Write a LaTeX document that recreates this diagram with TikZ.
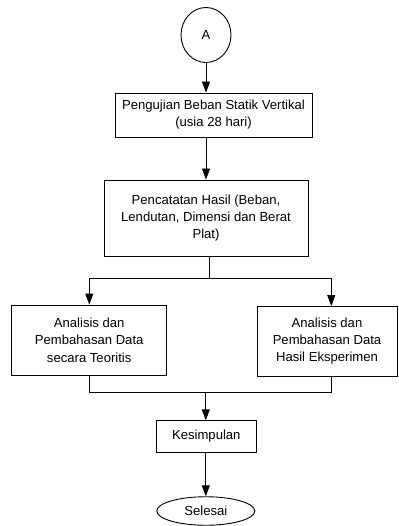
\documentclass[tikz,border=0pt]{standalone}
\usepackage{fontspec}
\setmainfont{Liberation Sans}
\usetikzlibrary{arrows.meta,shapes.geometric}
\begin{document}
\begin{tikzpicture}[x=1pt,y=-1pt,
  every node/.style={font=\fontsize{13.1}{17.2}\selectfont, inner sep=0pt, align=center},
  box/.style={draw, line width=0.9pt, rectangle},
  conn/.style={draw, line width=0.9pt},
  arr/.style={conn, -{Triangle[width=8pt,length=11pt]}}]
\useasboundingbox (0,0) rectangle (398,526);
\node[draw, line width=0.9pt, ellipse, minimum width=50pt, minimum height=55pt] (A) at (206,35) {A};
\node[box, minimum width=197pt, minimum height=44pt] (b1) at (213.5,115) {Pengujian Beban Statik Vertikal\\(usia 28 hari)};
\node[box, minimum width=204pt, minimum height=76pt] (b2) at (206,218) {Pencatatan Hasil (Beban,\\Lendutan, Dimensi dan Berat\\Plat)};
\node[box, minimum width=155pt, minimum height=70.5pt] (b3) at (89.2,340.3) {Analisis dan\\Pembahasan Data\\secara Teoritis};
\node[box, minimum width=140pt, minimum height=69.5pt] (b4) at (327,341.3) {Analisis dan\\Pembahasan Data\\Hasil Eksperimen};
\node[box, minimum width=99.5pt, minimum height=31.5pt] (b5) at (206.3,436.5) {Kesimpulan};
\node[draw, line width=0.9pt, ellipse, minimum width=98pt, minimum height=28.5pt] (e) at (205.8,511) {Selesai};
\coordinate (j1) at (209.3,278);
\coordinate (jl) at (89.3,278);
\coordinate (jr) at (331.3,278);
\coordinate (j2) at (205.8,392.5);
\draw[arr] (A.south) -- (A.south |- b1.north);
\draw[arr] (A.south |- b1.south) -- (A.south |- b2.north);
\draw[conn] (j1 |- b2.south) -- (j1);
\draw[conn] (jl) -- (jr);
\draw[arr] (jl) -- (jl |- b3.north);
\draw[arr] (jr) -- (jr |- b4.north);
\draw[conn] (jl |- b3.south) -- (jl |- j2) -- (jr |- j2) -- (jr |- b4.south);
\draw[arr] (j2) -- (j2 |- b5.north);
\draw[arr] (j2 |- b5.south) -- (j2 |- e.north);
\end{tikzpicture}
\end{document}
